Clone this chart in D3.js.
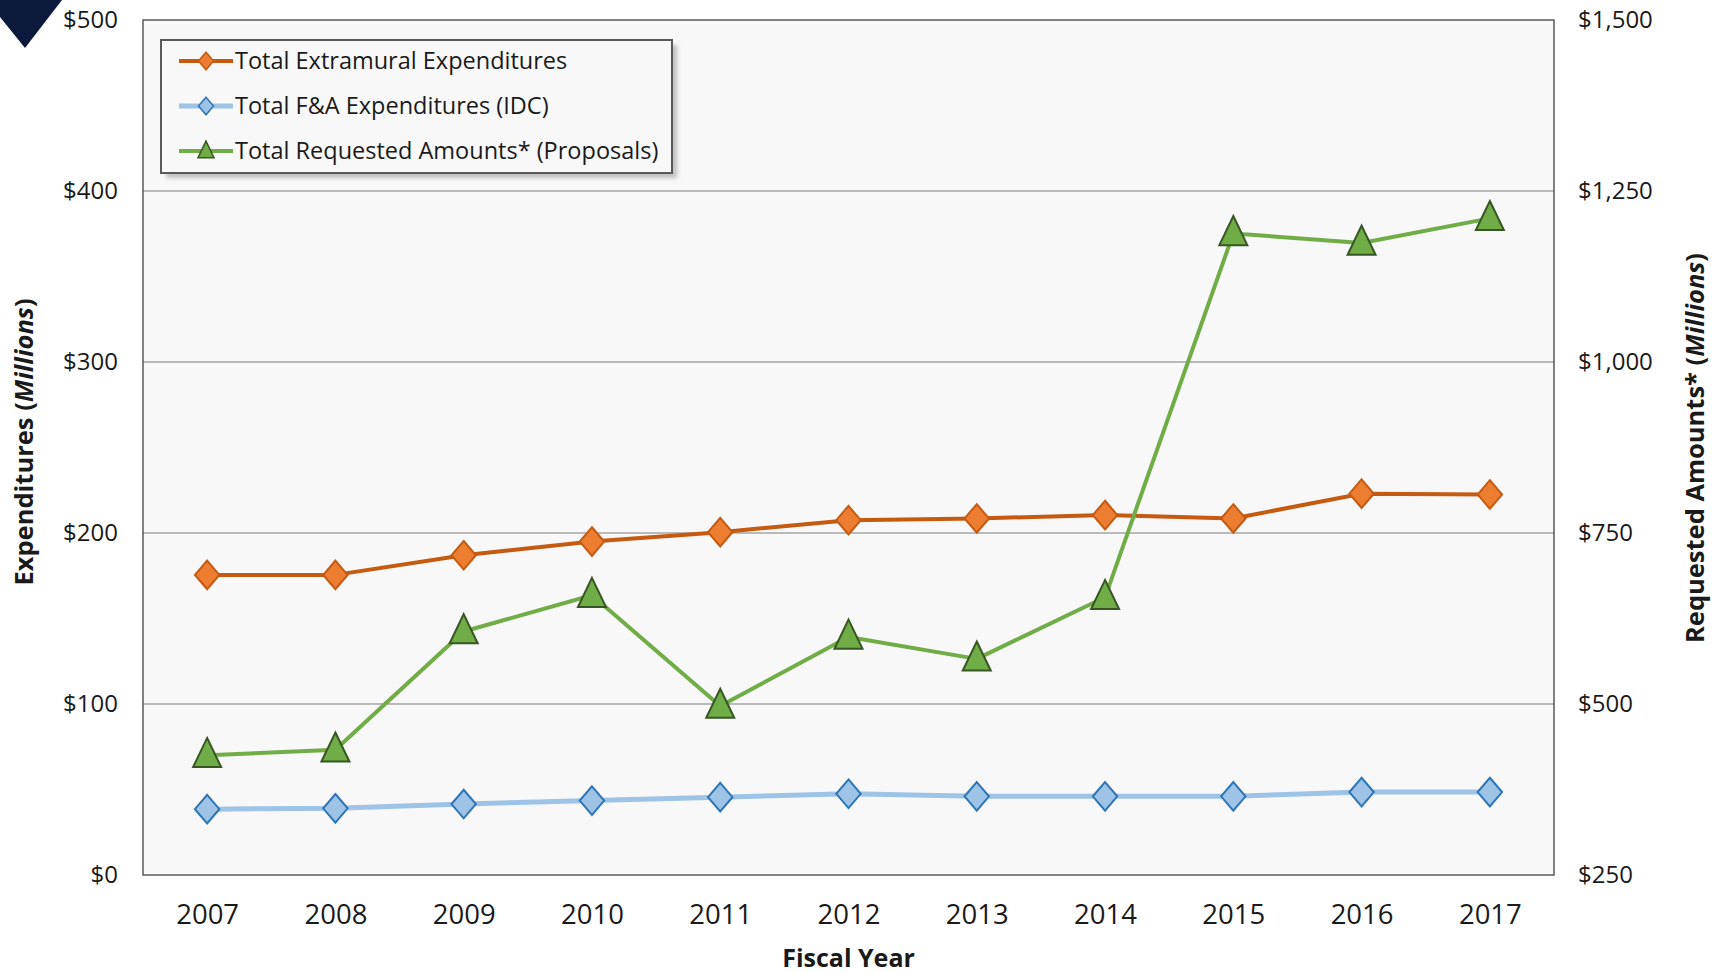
<!DOCTYPE html>
<html>
<head>
<meta charset="utf-8">
<script src="https://cdn.jsdelivr.net/npm/d3@7"></script>
<style>
  body { margin: 0; background: #fff; }
  text { font-family: "Open Sans", "Noto Sans", sans-serif; fill: #1a1a1a; }
</style>
</head>
<body>
<svg width="1721" height="973"></svg>
<script>
// Data
var years = ["2007","2008","2009","2010","2011","2012","2013","2014","2015","2016","2017"];
var extramural = [175.5, 175.5, 187, 195, 200.5, 207.5, 208.5, 210.5, 208.5, 223, 222.5];
var fanda = [38.5, 39, 41.5, 43.5, 45.5, 47.5, 46, 46, 46, 48.5, 48.5];
var requested = [425, 433, 606, 659, 497, 598, 566, 656, 1188, 1174, 1210];
var leftTicks = [0, 100, 200, 300, 400, 500];
var rightTicks = [250, 500, 750, 1000, 1250, 1500];

var svg = d3.select("svg"),
    width = +svg.attr("width"),
    height = +svg.attr("height");

var margin = {top: 20, right: 167, bottom: 98, left: 143};
var plotW = width - margin.left - margin.right,
    plotH = height - margin.top - margin.bottom;

// dark corner mark
svg.append("polygon")
  .attr("points", "0,0 62,0 25,48 0,17")
  .style("fill", "#0b1a3b");

var g = svg.append("g").attr("transform", "translate(" + margin.left + "," + margin.top + ")");

var x = d3.scalePoint().domain(years).range([0, plotW]).padding(0.5);
var yL = d3.scaleLinear().domain([0, 500]).range([plotH, 0]);
var yR = d3.scaleLinear().domain([250, 1500]).range([plotH, 0]);

// plot background
g.append("rect")
  .attr("width", plotW).attr("height", plotH)
  .style("fill", "#f8f8f8");

// gridlines
g.append("g")
  .selectAll("line")
  .data(leftTicks.slice(1, -1))
  .enter()
  .append("line")
    .attr("x1", 0).attr("x2", plotW)
    .attr("y1", function(d){ return yL(d) }).attr("y2", function(d){ return yL(d) })
    .style("stroke", "#a6a6a6").style("stroke-width", 1.3)

g.append("rect")
  .attr("width", plotW).attr("height", plotH)
  .style("fill", "none").style("stroke", "#595959").style("stroke-width", 1.5);

// left axis
var leftAxis = g.append("g")
  .call(d3.axisLeft(yL).tickValues(leftTicks).tickSize(0).tickPadding(25).tickFormat(function(d){ return "$" + d3.format(",")(d) }));
leftAxis.select(".domain").remove();
leftAxis.selectAll("text").style("font-size", "24px").style("font-family", "'Open Sans', sans-serif").style("fill", "#1a1a1a");

// right axis
var rightAxis = g.append("g")
  .attr("transform", "translate(" + plotW + ",0)")
  .call(d3.axisRight(yR).tickValues(rightTicks).tickSize(0).tickPadding(24).tickFormat(function(d){ return "$" + d3.format(",")(d) }));
rightAxis.select(".domain").remove();
rightAxis.selectAll("text").style("font-size", "24px").style("font-family", "'Open Sans', sans-serif").style("fill", "#1a1a1a");

// bottom axis
var bottomAxis = g.append("g")
  .attr("transform", "translate(0," + plotH + ")")
  .call(d3.axisBottom(x).tickSize(0).tickPadding(29));
bottomAxis.select(".domain").remove();
bottomAxis.selectAll("text").style("font-size", "27.5px").style("font-family", "'Open Sans', sans-serif").style("fill", "#1a1a1a");

// axis titles
svg.append("text")
  .attr("x", margin.left + plotW / 2).attr("y", 967)
  .attr("text-anchor", "middle")
  .style("font-size", "25px").style("font-weight", "bold")
  .text("Fiscal Year");

var lt = svg.append("text")
  .attr("transform", "translate(33,442) rotate(-90)")
  .attr("text-anchor", "middle")
  .style("font-size", "25.5px").style("font-weight", "bold");
lt.append("tspan").text("Expenditures (");
lt.append("tspan").style("font-style", "italic").text("Millions");
lt.append("tspan").text(")");

var rt = svg.append("text")
  .attr("transform", "translate(1704,448) rotate(-90)")
  .attr("text-anchor", "middle")
  .style("font-size", "25.5px").style("font-weight", "bold");
rt.append("tspan").text("Requested Amounts* (");
rt.append("tspan").style("font-style", "italic").text("Millions");
rt.append("tspan").text(")");

// series definitions
var series = [
  {name: "Total Extramural Expenditures", values: extramural, y: yL, line: "#c55a11", fill: "#ed7d31", stroke: "#c55a11", lw: 4, shape: "diamond"},
  {name: "Total F&A Expenditures (IDC)", values: fanda, y: yL, line: "#9dc3e6", fill: "#9dc3e6", stroke: "#2e75b6", lw: 5, shape: "diamond"},
  {name: "Total Requested Amounts* (Proposals)", values: requested, y: yR, line: "#70ad47", fill: "#70ad47", stroke: "#375623", lw: 4, shape: "triangle"}
];

function markerPath(shape, s) {
  if (shape == "diamond") return "M0," + (-s*0.55) + "L" + (s*0.47) + ",0L0," + (s*0.55) + "L" + (-s*0.47) + ",0Z";
  return "M0," + (-s*0.62) + "L" + (s*0.5) + "," + (s*0.42) + "L" + (-s*0.5) + "," + (s*0.42) + "Z";
}

var line = d3.line();

series.forEach(function(s){
  var pts = years.map(function(yr, i){ return [x(yr), s.y(s.values[i])] });
  g.append("path")
    .attr("d", line(pts))
    .style("fill", "none").style("stroke", s.line).style("stroke-width", s.lw)
    .style("stroke-linejoin", "round");
});

series.forEach(function(s){
  g.selectAll(null)
    .data(s.values)
    .enter()
    .append("path")
      .attr("transform", function(d, i){ return "translate(" + x(years[i]) + "," + s.y(d) + ")" })
      .attr("d", markerPath(s.shape, s.shape == "triangle" ? 28 : 26))
      .style("fill", s.fill).style("stroke", s.stroke).style("stroke-width", 2);
});

// legend
var lg = svg.append("g").attr("transform", "translate(161,40)");
lg.append("rect")
  .attr("x", 5).attr("y", 5).attr("width", 511).attr("height", 133)
  .style("fill", "#9a9a9a").style("opacity", 0.6).style("filter", "blur(2px)");
lg.append("rect")
  .attr("width", 511).attr("height", 133)
  .style("fill", "#f8f8f8").style("stroke", "#595959").style("stroke-width", 2);

series.forEach(function(s, i){
  var yy = 21 + i * 45;
  lg.append("line")
    .attr("x1", 18).attr("x2", 72).attr("y1", yy).attr("y2", yy)
    .style("stroke", s.line).style("stroke-width", s.lw);
  lg.append("path")
    .attr("transform", "translate(45," + yy + ")")
    .attr("d", markerPath(s.shape, 16))
    .style("fill", s.fill).style("stroke", s.stroke).style("stroke-width", 1.5);
  lg.append("text")
    .attr("x", 74).attr("y", yy)
    .attr("dy", "0.35em")
    .style("font-size", "23.5px")
    .text(s.name);
});
</script>
</body>
</html>
